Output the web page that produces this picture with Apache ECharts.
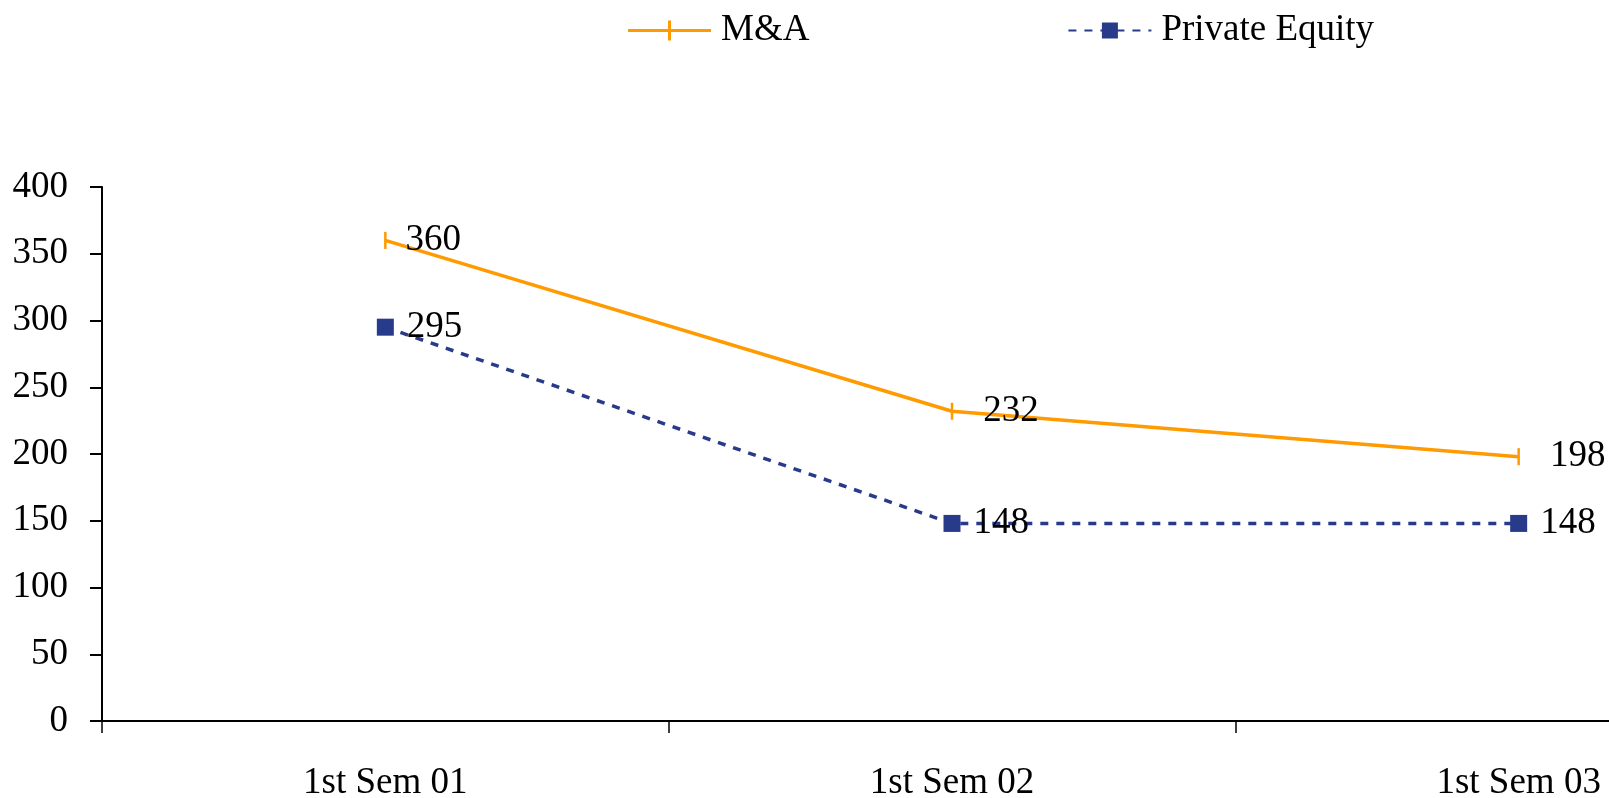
<!DOCTYPE html>
<html>
<head>
<meta charset="utf-8">
<script src="https://cdn.jsdelivr.net/npm/echarts@6/dist/echarts.min.js"></script>
<style>
html, body {
  margin: 0;
  padding: 0;
  background: #fff;
  overflow: hidden;
}
/* the plot runs on past the right edge of the window, as in the original */
#chart {
  width: 1802px;
  height: 798px;
}
</style>
</head>
<body>
<div id="chart"></div>
<script>
const categories = ['1st Sem 01', '1st Sem 02', '1st Sem 03']
const mnaValues = [360, 232, 198]
const peValues = [295, 148, 148]
const yTicks = { min: 0, max: 400, interval: 50 }

const font = 'Liberation Serif'
const orange = '#FF9A00'
const navy = '#283A8A'

// label gap from the point differs a bit per point in the original
const mnaLabelGap = [19, 30, 30]

// line with a short upright tick in the middle, for the M&A legend entry
const mnaLegendIcon = 'path://M0,8.5H40V0H43V8.5H83V11.5H43V20H40V11.5H0Z'

const chart = echarts.init(document.getElementById('chart'))

const option = {
  animation: false,
  backgroundColor: '#ffffff',
  textStyle: { fontFamily: font },
  legend: {
    top: 12,
    left: 628,
    padding: 0,
    itemWidth: 83,
    itemHeight: 20,
    itemGap: 258,
    textStyle: { fontFamily: font, fontSize: 37, color: '#000', padding: [0, 0, 0, 5] },
    data: [
      { name: 'M&A', icon: mnaLegendIcon },
      { name: 'Private Equity' }
    ]
  },
  grid: {
    left: 102,
    right: 0,
    top: 187,
    bottom: 77,
    outerBoundsMode: 'none'
  },
  xAxis: {
    type: 'category',
    data: categories,
    boundaryGap: true,
    axisLine: { lineStyle: { color: '#000', width: 2 } },
    axisTick: { show: true, length: 12, lineStyle: { color: '#000', width: 1.5 } },
    axisLabel: { color: '#000', fontFamily: font, fontSize: 37, margin: 44 },
    splitLine: { show: false }
  },
  yAxis: {
    type: 'value',
    min: yTicks.min,
    max: yTicks.max,
    interval: yTicks.interval,
    axisLine: { show: true, lineStyle: { color: '#000', width: 2 } },
    axisTick: { show: true, length: 12, lineStyle: { color: '#000', width: 2 } },
    axisLabel: { color: '#000', fontFamily: font, fontSize: 37, margin: 34 },
    splitLine: { show: false }
  },
  series: [
    {
      name: 'M&A',
      type: 'line',
      data: mnaValues.map((v, i) => ({
        value: v,
        label: { distance: mnaLabelGap[i] }
      })),
      symbol: 'rect',
      symbolSize: [2.5, 17],
      itemStyle: { color: orange },
      lineStyle: { color: orange, width: 3.5 },
      label: {
        show: true,
        position: 'right',
        color: '#000',
        fontFamily: font,
        fontSize: 37
      },
      z: 2
    },
    {
      name: 'Private Equity',
      type: 'line',
      data: peValues,
      symbol: 'rect',
      symbolSize: 17,
      itemStyle: { color: navy },
      lineStyle: { color: navy, width: 3.5, type: [8, 8] },
      label: {
        show: true,
        position: 'right',
        distance: 13,
        color: '#000',
        fontFamily: font,
        fontSize: 37
      },
      z: 3
    }
  ]
}
chart.setOption(option)
</script>
</body>
</html>
